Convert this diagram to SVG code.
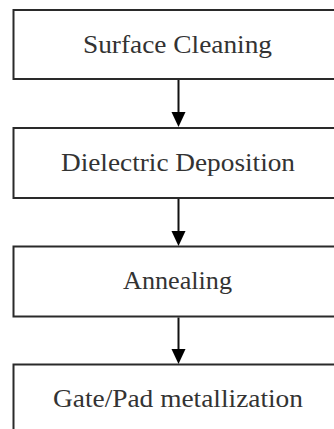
<svg xmlns="http://www.w3.org/2000/svg" width="334" height="429" viewBox="0 0 334 429">
  <style>
    .box { fill: #ffffff; stroke: #2a2a2a; stroke-width: 2; }
    .label { font-family: "Liberation Serif", "DejaVu Serif", serif; font-size: 25px; fill: #333333; text-anchor: middle; }
    .link { stroke: #111111; stroke-width: 2; fill: none; }
    .head { fill: #000000; }
  </style>
  <rect width="334" height="429" fill="#ffffff"/>

  <g id="surface-cleaning">
    <rect class="box" x="13.5" y="10" width="340" height="69"/>
    <text class="label" x="177.5" y="52.5" textLength="189" lengthAdjust="spacingAndGlyphs">Surface Cleaning</text>
  </g>
  <g id="dielectric-deposition">
    <rect class="box" x="13.5" y="128" width="340" height="70"/>
    <text class="label" x="178" y="170.5" textLength="234" lengthAdjust="spacingAndGlyphs">Dielectric Deposition</text>
  </g>
  <g id="annealing">
    <rect class="box" x="13.5" y="246.5" width="340" height="70"/>
    <text class="label" x="177.5" y="289" textLength="109" lengthAdjust="spacingAndGlyphs">Annealing</text>
  </g>
  <g id="gate-pad-metallization">
    <rect class="box" x="13.5" y="364.5" width="340" height="72"/>
    <text class="label" x="178" y="407" textLength="250" lengthAdjust="spacingAndGlyphs">Gate/Pad metallization</text>
  </g>

  <g id="connectors">
    <line class="link" x1="178.5" y1="80" x2="178.5" y2="114"/>
    <polygon class="head" points="171.5,112 185.5,112 178.5,127"/>
    <line class="link" x1="178.5" y1="199" x2="178.5" y2="233"/>
    <polygon class="head" points="171.5,231 185.5,231 178.5,246"/>
    <line class="link" x1="178.5" y1="317.5" x2="178.5" y2="351"/>
    <polygon class="head" points="171.5,349 185.5,349 178.5,364"/>
  </g>
</svg>
